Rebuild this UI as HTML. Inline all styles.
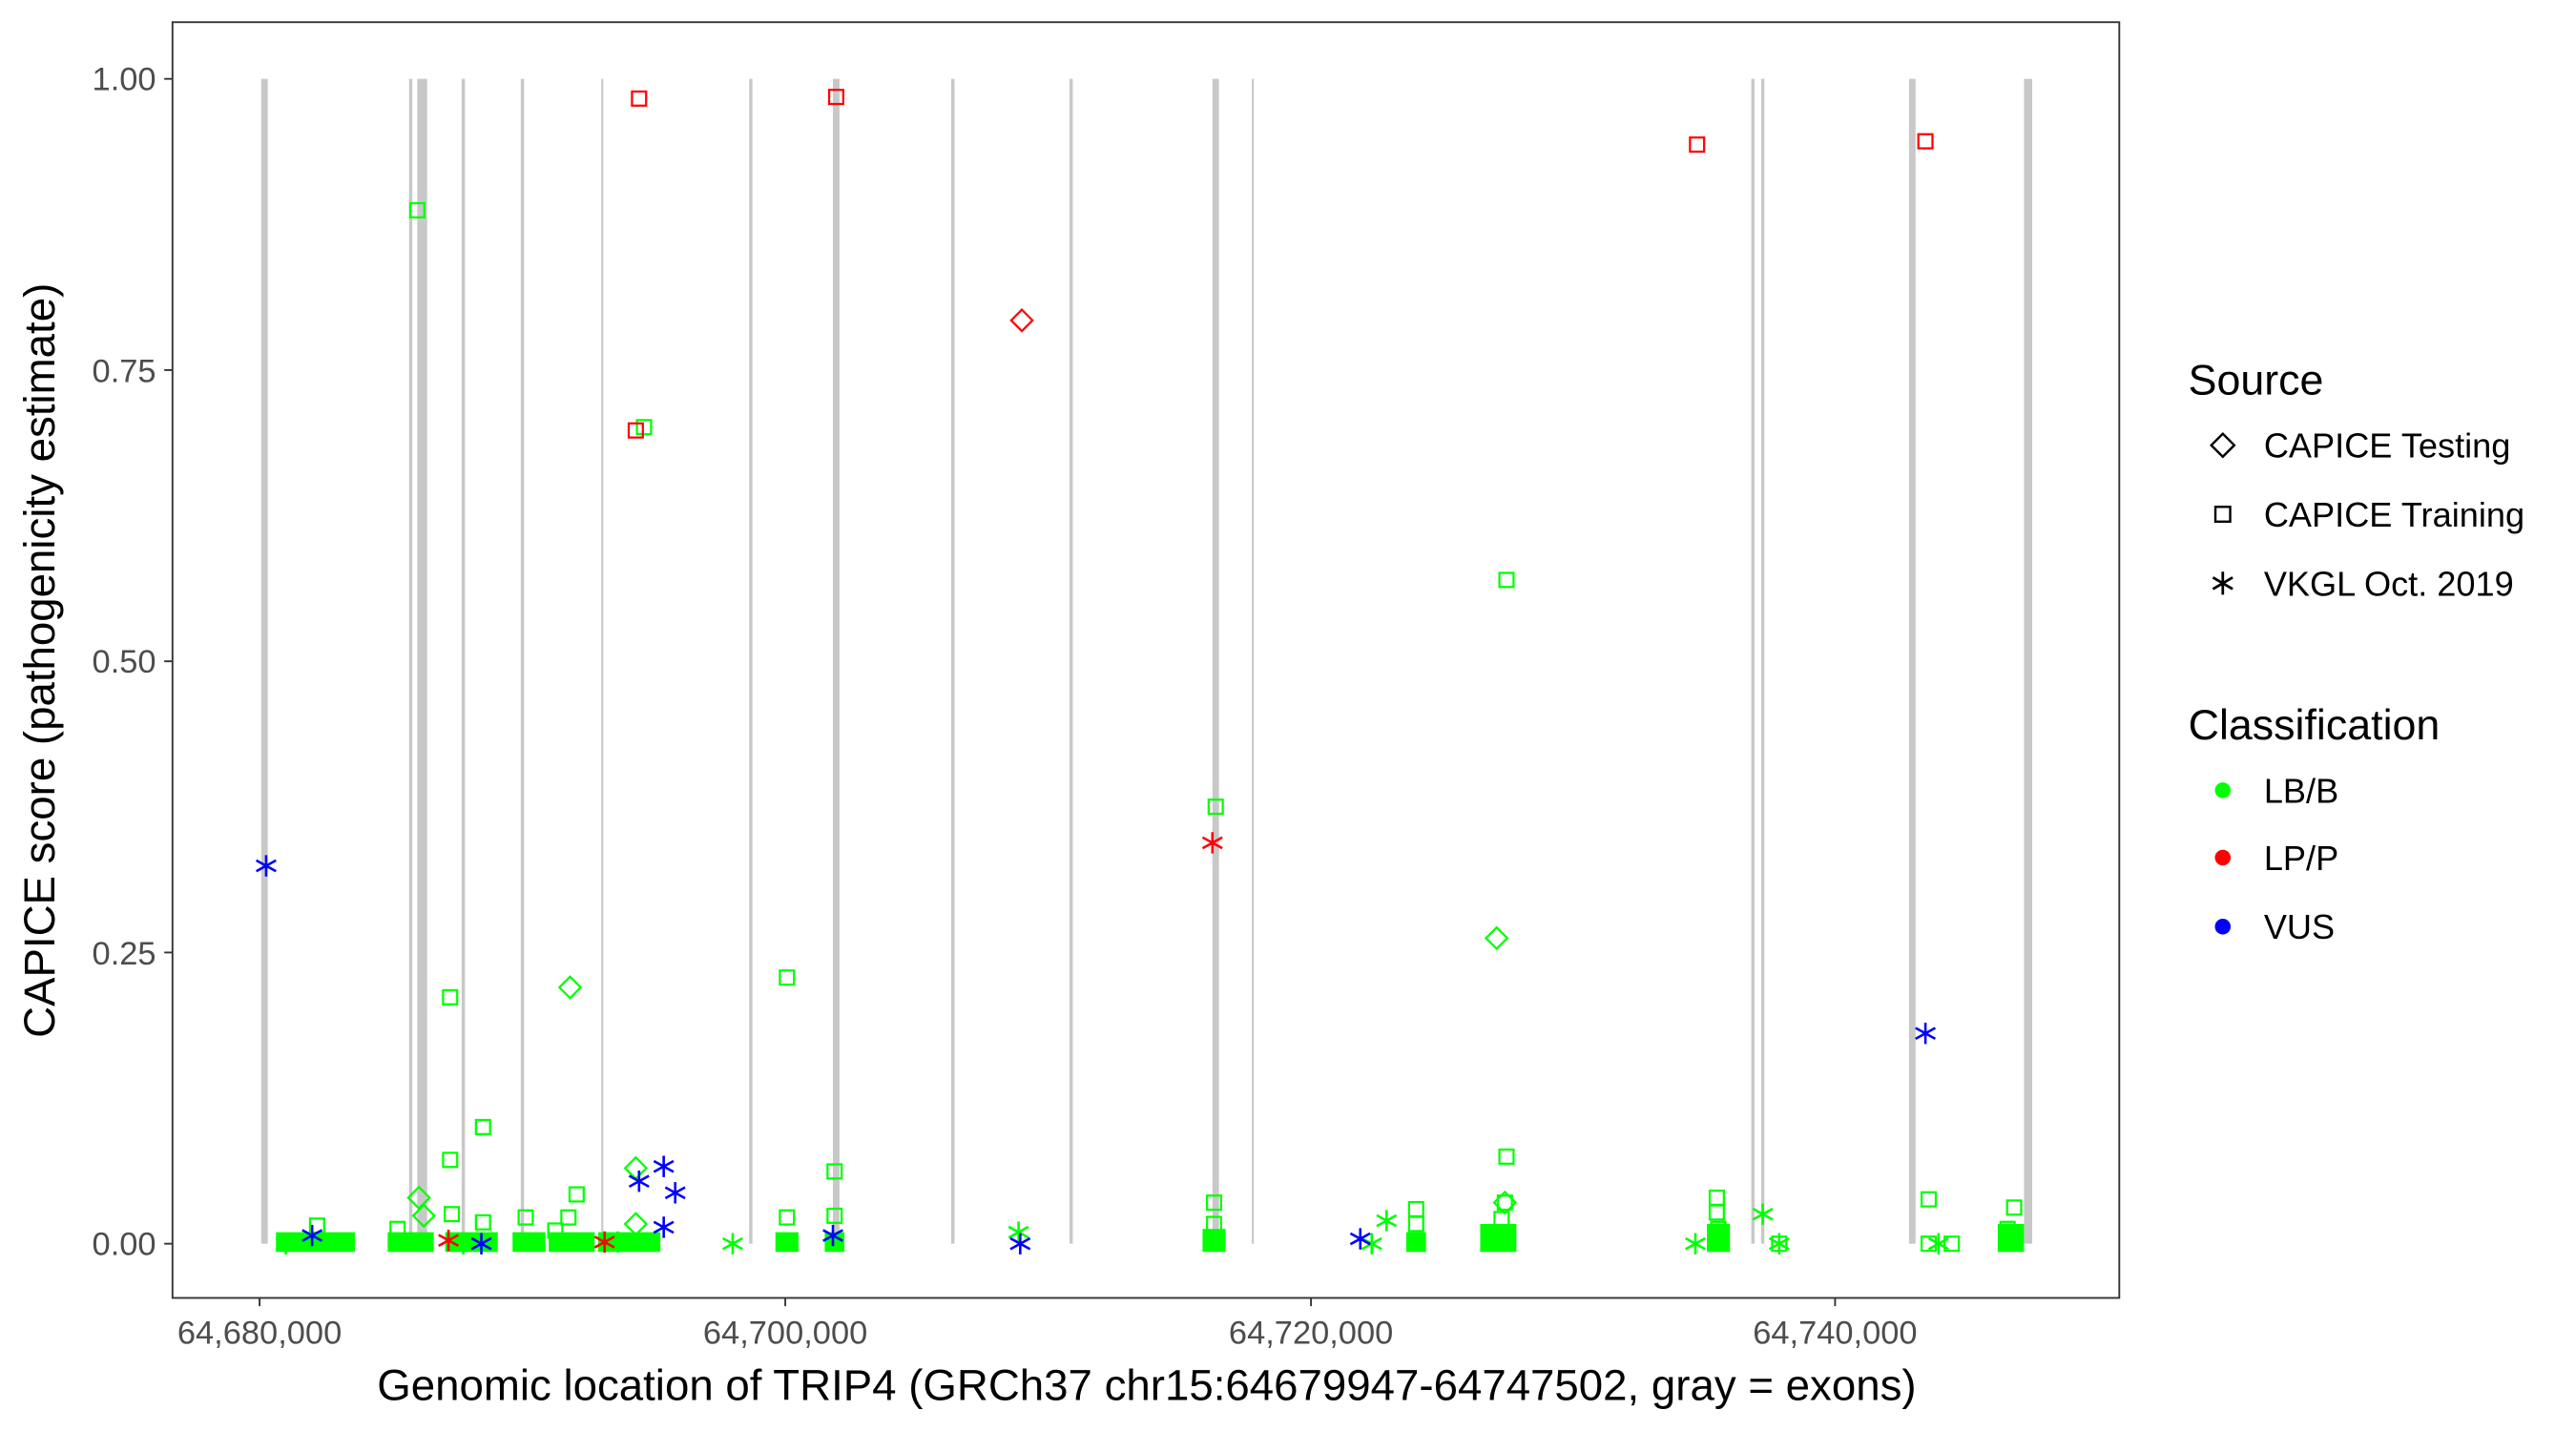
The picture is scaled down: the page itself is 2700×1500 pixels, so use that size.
<!DOCTYPE html>
<html><head><meta charset="utf-8"><style>
html,body{margin:0;padding:0;background:#fff;width:2700px;height:1500px;overflow:hidden}
svg{display:block}
text{font-family:"Liberation Sans",Arial,sans-serif}
</style></head><body>
<svg width="2700" height="1500" viewBox="0 0 1568 871" preserveAspectRatio="none" xmlns="http://www.w3.org/2000/svg">
<defs>
<rect id="sq" x="-4.3" y="-4.3" width="8.6" height="8.6" fill="none" stroke-width="1.3"/>
<path id="di" d="M0,-6.5L6.5,0L0,6.5L-6.5,0Z" fill="none" stroke-width="1.3"/>
<path id="as" d="M0,-6.5V6.5M-6,-3.3L6,3.3M-6,3.3L6,-3.3" fill="none" stroke-width="1.5"/>
</defs>
<rect width="1568" height="871" fill="#fff"/>
<g fill="#c8c8c8">
<rect x="159" y="48" width="4" height="709"/>
<rect x="249" y="48" width="2" height="709"/>
<rect x="254" y="48" width="6" height="709"/>
<rect x="281" y="48" width="2" height="709"/>
<rect x="317" y="48" width="2" height="709"/>
<rect x="366" y="48" width="1.2" height="709"/>
<rect x="456" y="48" width="2" height="709"/>
<rect x="507" y="48" width="4" height="709"/>
<rect x="579" y="48" width="2" height="709"/>
<rect x="651" y="48" width="2" height="709"/>
<rect x="738" y="48" width="4" height="709"/>
<rect x="762" y="48" width="1.2" height="709"/>
<rect x="1066" y="48" width="2" height="709"/>
<rect x="1072" y="48" width="2" height="709"/>
<rect x="1162" y="48" width="4" height="709"/>
<rect x="1232" y="48" width="5" height="709"/>
</g>
<g stroke="#00ff00">
<use href="#sq" x="254" y="128"/><use href="#sq" x="392" y="260"/><use href="#sq" x="917" y="353"/>
<use href="#sq" x="740" y="491"/><use href="#sq" x="274" y="607"/><use href="#sq" x="479" y="595"/>
<use href="#sq" x="294" y="686"/><use href="#sq" x="274" y="706"/><use href="#sq" x="508" y="713"/>
<use href="#sq" x="1226" y="735"/><use href="#sq" x="1174" y="730"/><use href="#sq" x="917" y="704"/>
<use href="#sq" x="351" y="727"/><use href="#sq" x="320" y="741"/><use href="#sq" x="1045" y="729"/>
<use href="#sq" x="862" y="736"/><use href="#sq" x="739" y="732"/><use href="#sq" x="193" y="746"/>
<use href="#sq" x="242" y="748"/><use href="#sq" x="275" y="739"/><use href="#sq" x="294" y="744"/>
<use href="#sq" x="346" y="741"/><use href="#sq" x="338" y="749"/><use href="#sq" x="479" y="741"/>
<use href="#sq" x="508" y="740"/><use href="#sq" x="1045" y="738"/><use href="#sq" x="862" y="745"/>
<use href="#sq" x="916" y="732"/><use href="#sq" x="914" y="742"/><use href="#sq" x="739" y="745"/>
<use href="#sq" x="1222" y="748"/><use href="#sq" x="1046" y="748"/>
</g>
<g fill="#00ff00">
<rect x="168" y="750" width="48" height="12"/>
<rect x="236" y="750" width="28" height="12"/>
<rect x="271" y="750" width="32" height="12"/>
<rect x="312" y="750" width="20" height="12"/>
<rect x="334" y="750" width="28" height="12"/>
<rect x="364" y="750" width="38" height="12"/>
<rect x="472" y="750" width="14" height="12"/>
<rect x="502" y="750" width="12" height="12"/>
<rect x="732" y="748" width="14" height="14"/>
<rect x="856" y="750" width="12" height="12"/>
<rect x="901" y="745" width="22" height="17"/>
<rect x="1039" y="745" width="14" height="17"/>
<rect x="1216" y="745" width="16" height="17"/>
</g>
<g stroke="#00ff00">
<use href="#sq" x="1083" y="757"/><use href="#sq" x="1174" y="757"/><use href="#sq" x="1188" y="757"/>
</g>
<g stroke="#00ff00">
<use href="#di" x="347" y="601"/><use href="#di" x="911" y="571"/><use href="#di" x="255" y="729"/>
<use href="#di" x="258" y="740"/><use href="#di" x="387" y="711"/><use href="#di" x="387" y="745"/>
<use href="#di" x="916" y="732"/>
</g>
<g stroke="#00ff00">
<use href="#as" x="174" y="757"/><use href="#as" x="446" y="757"/><use href="#as" x="620" y="750"/>
<use href="#as" x="844" y="743"/><use href="#as" x="835" y="757"/><use href="#as" x="1073" y="739"/>
<use href="#as" x="1032" y="757"/><use href="#as" x="1083" y="757"/><use href="#as" x="1180" y="757"/>
<use href="#as" x="282" y="757"/><use href="#as" x="376" y="756"/>
</g>
<g stroke="#ff0000">
<use href="#sq" x="389" y="60"/><use href="#sq" x="509" y="59"/><use href="#sq" x="387" y="262"/>
<use href="#sq" x="1033" y="88"/><use href="#sq" x="1172" y="86"/>
<use href="#di" x="622" y="195"/>
<use href="#as" x="738" y="513"/><use href="#as" x="273" y="755"/><use href="#as" x="368" y="756"/>
</g>
<g stroke="#0000ff">
<use href="#as" x="162" y="527"/><use href="#as" x="1172" y="629"/><use href="#as" x="389" y="719"/>
<use href="#as" x="404" y="710"/><use href="#as" x="411" y="726"/><use href="#as" x="404" y="747"/>
<use href="#as" x="190" y="752"/><use href="#as" x="293" y="757"/><use href="#as" x="507" y="752"/>
<use href="#as" x="621" y="757"/><use href="#as" x="828" y="754"/>
</g>
<rect x="105" y="13.5" width="1185" height="776.5" fill="none" stroke="#333" stroke-width="1.1"/>
<g stroke="#333" stroke-width="1.1">
<line x1="100" x2="105" y1="48" y2="48"/><line x1="100" x2="105" y1="225.25" y2="225.25"/>
<line x1="100" x2="105" y1="402.5" y2="402.5"/><line x1="100" x2="105" y1="579.75" y2="579.75"/>
<line x1="100" x2="105" y1="757" y2="757"/>
<line x1="158" x2="158" y1="790" y2="795"/><line x1="478" x2="478" y1="790" y2="795"/>
<line x1="798" x2="798" y1="790" y2="795"/><line x1="1117" x2="1117" y1="790" y2="795"/>
</g>
<g fill="#4d4d4d" font-size="20" text-anchor="end">
<text x="95" y="55">1.00</text><text x="95" y="232.5">0.75</text><text x="95" y="409.5">0.50</text>
<text x="95" y="587">0.25</text><text x="95" y="764">0.00</text>
</g>
<g fill="#4d4d4d" font-size="20" text-anchor="middle">
<text x="158" y="818">64,680,000</text><text x="478" y="818">64,700,000</text>
<text x="798" y="818">64,720,000</text><text x="1117" y="818">64,740,000</text>
</g>
<text x="698" y="852" font-size="26.5" text-anchor="middle" fill="#000">Genomic location of TRIP4 (GRCh37 chr15:64679947-64747502, gray = exons)</text>
<text transform="translate(33,402) rotate(-90)" font-size="26.5" text-anchor="middle" fill="#000">CAPICE score (pathogenicity estimate)</text>
<text x="1332" y="240" font-size="26" fill="#000">Source</text>
<g stroke="#000" fill="none" stroke-width="1.4">
<path d="M1353,264L1360,271L1353,278L1346,271Z"/>
<rect x="1348.5" y="308.5" width="9" height="9"/>
<path d="M1353,348V362M1347,351.5L1359,358.5M1347,358.5L1359,351.5" stroke-width="1.6"/>
</g>
<g font-size="21" fill="#000">
<text x="1378" y="278.5">CAPICE Testing</text>
<text x="1378" y="320.5">CAPICE Training</text>
<text x="1378" y="362.5">VKGL Oct. 2019</text>
</g>
<text x="1332" y="450" font-size="26" fill="#000">Classification</text>
<circle cx="1353" cy="481" r="4.8" fill="#00ff00"/>
<circle cx="1353" cy="522" r="4.8" fill="#ff0000"/>
<circle cx="1353" cy="564" r="4.8" fill="#0000ff"/>
<g font-size="21" fill="#000">
<text x="1378" y="488.5">LB/B</text><text x="1378" y="529.5">LP/P</text><text x="1378" y="571.5">VUS</text>
</g>
</svg>
</body></html>
